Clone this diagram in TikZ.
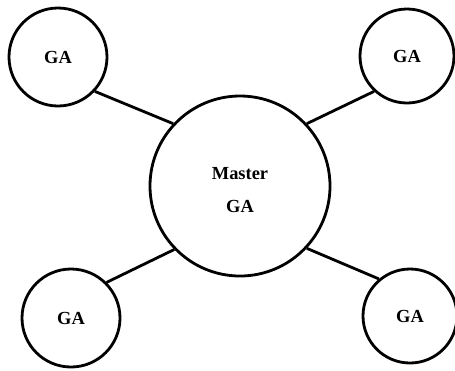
\documentclass[tikz,border=0pt]{standalone}
\usepackage{fontspec}
\setmainfont{Liberation Serif}
\begin{document}
\begin{tikzpicture}[x=1bp,y=-1bp,
  ga/.style={circle,draw,line width=2.8bp,inner sep=0pt,
    font=\fontsize{18.5}{34}\selectfont\bfseries,align=center},
  caption/.style={inner sep=0pt,font=\fontsize{18.5}{34}\selectfont\bfseries,align=center},
  link/.style={line width=2.8bp}]
\useasboundingbox (0,0) rectangle (455,370);
% master node in the middle, four satellite GAs around it
\node[ga,minimum size=180bp] (m)  at (240,186) {};
\node[caption] (mtext) at (240,190) {Master\\GA};
\node[ga,minimum size=98bp]  (tl) at (58,57)   {GA};
\node[ga,minimum size=94bp]  (tr) at (407,56)  {GA};
\node[ga,minimum size=98bp]  (bl) at (71,318)  {GA};
\node[ga,minimum size=94bp]  (br) at (410,316) {GA};
% links between the master and each GA
\draw[link] (tl.-43)  -- (m.137);
\draw[link] (tr.-133) -- (m.43);
\draw[link] (bl.45)   -- (m.224);
\draw[link] (br.130)  -- (m.-43);
\end{tikzpicture}
\end{document}
